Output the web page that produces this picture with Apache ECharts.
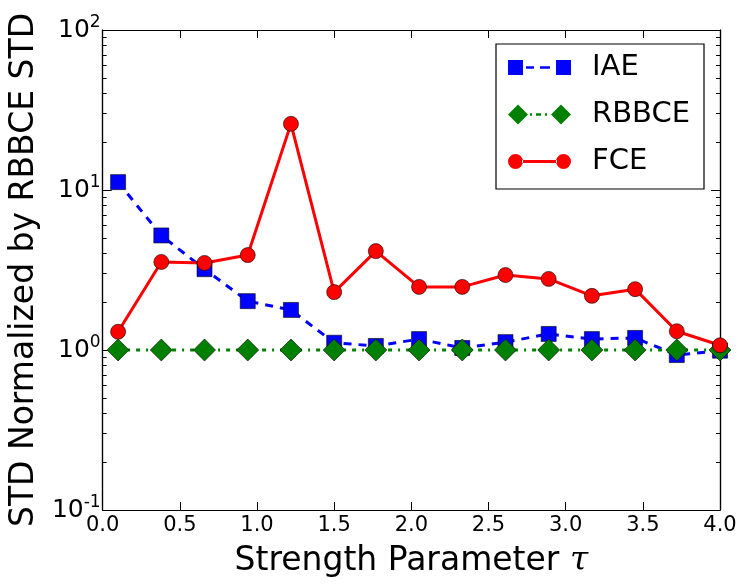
<!DOCTYPE html>
<html>
<head>
<meta charset="utf-8">
<script src="https://cdn.jsdelivr.net/npm/echarts@6/dist/echarts.min.js"></script>
<style>
html,body{margin:0;padding:0;background:#fff;}
#main{width:746px;height:588px;}
</style>
</head>
<body>
<div id="main"></div>
<script>
// values
var tauValues = [0.1, 0.38, 0.66, 0.94, 1.22, 1.5, 1.77, 2.05, 2.33, 2.61, 2.89, 3.17, 3.45, 3.72, 4.0];
var iaeValues = [11.2, 5.2, 3.2, 2.02, 1.78, 1.11, 1.06, 1.17, 1.03, 1.12, 1.26, 1.17, 1.19, 0.93, 0.99];
var rbbceValues = [1, 1, 1, 1, 1, 1, 1, 1, 1, 1, 1, 1, 1, 1, 1];
var fceValues = [1.3, 3.55, 3.5, 3.92, 25.9, 2.3, 4.15, 2.48, 2.48, 2.94, 2.78, 2.18, 2.4, 1.31, 1.07];
var yMajor = [0.1, 1, 10, 100];
var yMinor = [0.2,0.3,0.4,0.5,0.6,0.7,0.8,0.9, 2,3,4,5,6,7,8,9, 20,30,40,50,60,70,80,90];

var font = 'DejaVu Sans';

// legend icons: marker - line - marker, like matplotlib
var iconIAE = 'path://M0 2.5h15v15h-15Z M18 8.7h8v2.6h-8Z M32 8.7h10v2.6h-10Z M48 2.5h15v15h-15Z';
var iconRBBCE = 'path://M10 0L20 10L10 20L0 10Z M22 8.7h2v2.6h-2Z M28 8.7h5v2.6h-5Z M37 8.7h2v2.6h-2Z M53 0L63 10L53 20L43 10Z';
var iconFCE = 'path://M0 10a7.5 7.5 0 1 0 15 0a7.5 7.5 0 1 0 -15 0Z M14 8.5h35v3h-35Z M48 10a7.5 7.5 0 1 0 15 0a7.5 7.5 0 1 0 -15 0Z';

function pairs(ys) {
    var out = [];
    for (var i = 0; i < ys.length; i++) out.push([tauValues[i], ys[i]]);
    return out;
}

function yAx(pos, ticks, len, labels) {
    return {
        type: 'log', logBase: 10, min: 0.1, max: 100, position: pos,
        axisLine: { show: true, lineStyle: { color: '#000', width: 1.2 } },
        axisTick: { show: true, inside: true, length: len, customValues: ticks, lineStyle: { color: '#000', width: 1 } },
        axisLabel: labels ? {
            show: true, customValues: yMajor, margin: 2,
            formatter: function (v) { return '{b|10}{s|' + Math.round(Math.log10(v)) + '}'; },
            rich: {
                b: { fontFamily: font, fontSize: 25, color: '#000' },
                s: { fontFamily: font, fontSize: 17, color: '#000', padding: [0, 0, 14, 0] }
            }
        } : { show: false },
        splitLine: { show: false }
    };
}

function xAx(pos, labels) {
    return {
        type: 'value', min: 0, max: 4, interval: 0.5, position: pos,
        axisLine: { show: true, lineStyle: { color: '#000', width: 1.2 } },
        axisTick: { show: true, inside: true, length: 8, lineStyle: { color: '#000', width: 1 } },
        axisLabel: labels ? {
            show: true, fontFamily: font, fontSize: 21, color: '#000', margin: 5,
            formatter: function (v) { return v.toFixed(1); }
        } : { show: false },
        splitLine: { show: false }
    };
}

var chart = echarts.init(document.getElementById('main'));

var bottomX = xAx('bottom', true);
bottomX.name = '{a|Strength Parameter }{t|τ}';
bottomX.nameLocation = 'middle';
bottomX.nameGap = 35;
bottomX.nameTextStyle = {
    rich: {
        a: { fontFamily: font, fontSize: 33, color: '#000' },
        t: { fontFamily: 'DejaVu Serif', fontStyle: 'italic', fontSize: 33, color: '#000' }
    }
};

var leftY = yAx('left', yMajor, 9, true);
leftY.name = 'STD Normalized by RBBCE STD';
leftY.nameLocation = 'middle';
leftY.nameGap = 56;
leftY.nameTextStyle = { fontFamily: font, fontSize: 33, color: '#000' };

option = {
    animation: false,
    backgroundColor: '#fff',
    grid: { left: 100, right: 26, top: 30, bottom: 78, containLabel: false },
    xAxis: [bottomX, xAx('top', false)],
    yAxis: [leftY, yAx('left', yMinor, 4, false), yAx('right', yMajor, 9, false), yAx('right', yMinor, 4, false)],
    legend: {
        orient: 'vertical',
        left: 496, top: 44,
        padding: [9, 14, 13, 12],
        itemGap: 18,
        itemWidth: 63, itemHeight: 20,
        backgroundColor: '#fff',
        borderColor: '#000', borderWidth: 1.2, borderRadius: 0,
        itemStyle: { borderWidth: 0 },
        textStyle: { fontFamily: font, fontSize: 29, color: '#000', padding: [0, 0, 0, 16] },
        data: [
            { name: 'IAE', icon: iconIAE },
            { name: 'RBBCE', icon: iconRBBCE },
            { name: 'FCE', icon: iconFCE }
        ]
    },
    series: [
        {
            name: 'IAE', type: 'line', data: pairs(iaeValues),
            symbol: 'rect', symbolSize: 15, showAllSymbol: true,
            lineStyle: { color: '#0000ff', width: 3, type: [8, 7] },
            itemStyle: { color: '#0000ff', borderColor: '#000', borderWidth: 0.6 },
            clip: false
        },
        {
            name: 'RBBCE', type: 'line', data: pairs(rbbceValues),
            symbol: 'diamond', symbolSize: 22, showAllSymbol: true,
            lineStyle: { color: '#008000', width: 3, type: [4, 6, 2, 6] },
            itemStyle: { color: '#008000', borderColor: '#000', borderWidth: 0.6 },
            clip: false
        },
        {
            name: 'FCE', type: 'line', data: pairs(fceValues),
            symbol: 'circle', symbolSize: 15, showAllSymbol: true,
            lineStyle: { color: '#ff0000', width: 3 },
            itemStyle: { color: '#ff0000', borderColor: '#000', borderWidth: 0.6 },
            clip: false
        }
    ]
};

chart.setOption(option);
</script>
</body>
</html>
